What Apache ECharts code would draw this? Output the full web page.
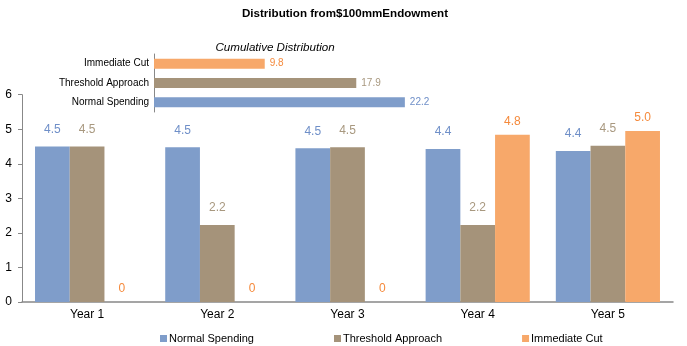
<!DOCTYPE html>
<html><head><meta charset="utf-8">
<script src="https://cdn.jsdelivr.net/npm/echarts@6/dist/echarts.min.js"></script>
<style>html,body{margin:0;padding:0;background:#fff}#c{width:687px;height:346px}</style>
</head><body><div id="c"></div>
<script>
const years = ['Year 1','Year 2','Year 3','Year 4','Year 5'];
const normalSpending = [4.5, 4.48, 4.45, 4.43, 4.37];
const thresholdApproach = [4.5, 2.23, 4.48, 2.23, 4.52];
const immediateCut = [0, 0, 0, 4.84, 4.95];
const cumCategories = ['Normal Spending','Threshold Approach','Immediate Cut'];
const cumValues = [22.2, 17.9, 9.8];
const yTicks = [0,1,2,3,4,5,6];

const colors = ['#7f9dca','#a5937a','#f7a86a'];
const labelColors = ['#6f8fc8','#a8987f','#f58a3c'];
const font = 'Liberation Sans, Arial, sans-serif';

function fmt(p){ return p.value === 0 ? '0' : p.value.toFixed(1); }

const chart = echarts.init(document.getElementById('c'));
chart.setOption({
  animation:false,
  title:[
    {text:'Distribution from$100mmEndowment', left:340, top:3, textAlign:'center',
     textStyle:{fontFamily:font, fontSize:11.6, fontWeight:'bold', color:'#000'}},
    {text:'Cumulative Distribution', left:270, top:37, textAlign:'center',
     textStyle:{fontFamily:font, fontSize:11.6, fontStyle:'italic', fontWeight:'normal', color:'#000'}}
  ],
  legend:{
    data:['Normal Spending','Threshold Approach','Immediate Cut'],
    left:155, top:328, itemWidth:7, itemHeight:7, itemGap:80,
    icon:'rect',
    textStyle:{fontFamily:font, fontSize:11, color:'#000', padding:[0,0,0,-3]}
  },
  grid:[
    {left:22, right:14, top:94.7, bottom:44},
    {left:154, top:54, width:339, height:58}
  ],
  xAxis:[
    {type:'category', gridIndex:0, data:years,
     axisLine:{lineStyle:{color:'#888', width:1.5}}, axisTick:{show:false},
     axisLabel:{fontFamily:font, fontSize:12, color:'#000', margin:7}},
    {type:'value', gridIndex:1, min:0, max:30, show:false}
  ],
  yAxis:[
    {type:'value', gridIndex:0, min:0, max:6, interval:1,
     axisLine:{show:true, lineStyle:{color:'#888'}},
     axisTick:{show:true, length:4, lineStyle:{color:'#888'}},
     splitLine:{show:false},
     axisLabel:{fontFamily:font, fontSize:12, color:'#000', margin:10,
       formatter:v=>yTicks.includes(v)?String(v):''}},
    {type:'category', gridIndex:1, data:cumCategories,
     axisLine:{show:true, lineStyle:{color:'#888'}}, axisTick:{show:false},
     axisLabel:{fontFamily:font, fontSize:10, color:'#000', margin:5}}
  ],
  series:[
    {name:'Normal Spending', type:'bar', data:normalSpending, barGap:'0%', barCategoryGap:'20%',
     itemStyle:{color:colors[0]},
     label:{show:true, position:'top', distance:11, formatter:fmt, color:labelColors[0], fontFamily:font, fontSize:12}},
    {name:'Threshold Approach', type:'bar', data:thresholdApproach, barGap:'0%', barCategoryGap:'20%',
     itemStyle:{color:colors[1]},
     label:{show:true, position:'top', distance:11, formatter:fmt, color:labelColors[1], fontFamily:font, fontSize:12}},
    {name:'Immediate Cut', type:'bar', data:immediateCut, barGap:'0%', barCategoryGap:'20%',
     itemStyle:{color:colors[2]},
     label:{show:true, position:'top', distance:7, formatter:fmt, color:labelColors[2], fontFamily:font, fontSize:12}},
    {type:'bar', xAxisIndex:1, yAxisIndex:1, barWidth:10,
     data:cumValues.map((v,i)=>({value:v, itemStyle:{color:colors[i]}, label:{color:labelColors[i]}})),
     label:{show:true, position:'right', distance:5, formatter:p=>p.value.toFixed(1), fontFamily:font, fontSize:10}}
  ]
});
</script></body></html>
